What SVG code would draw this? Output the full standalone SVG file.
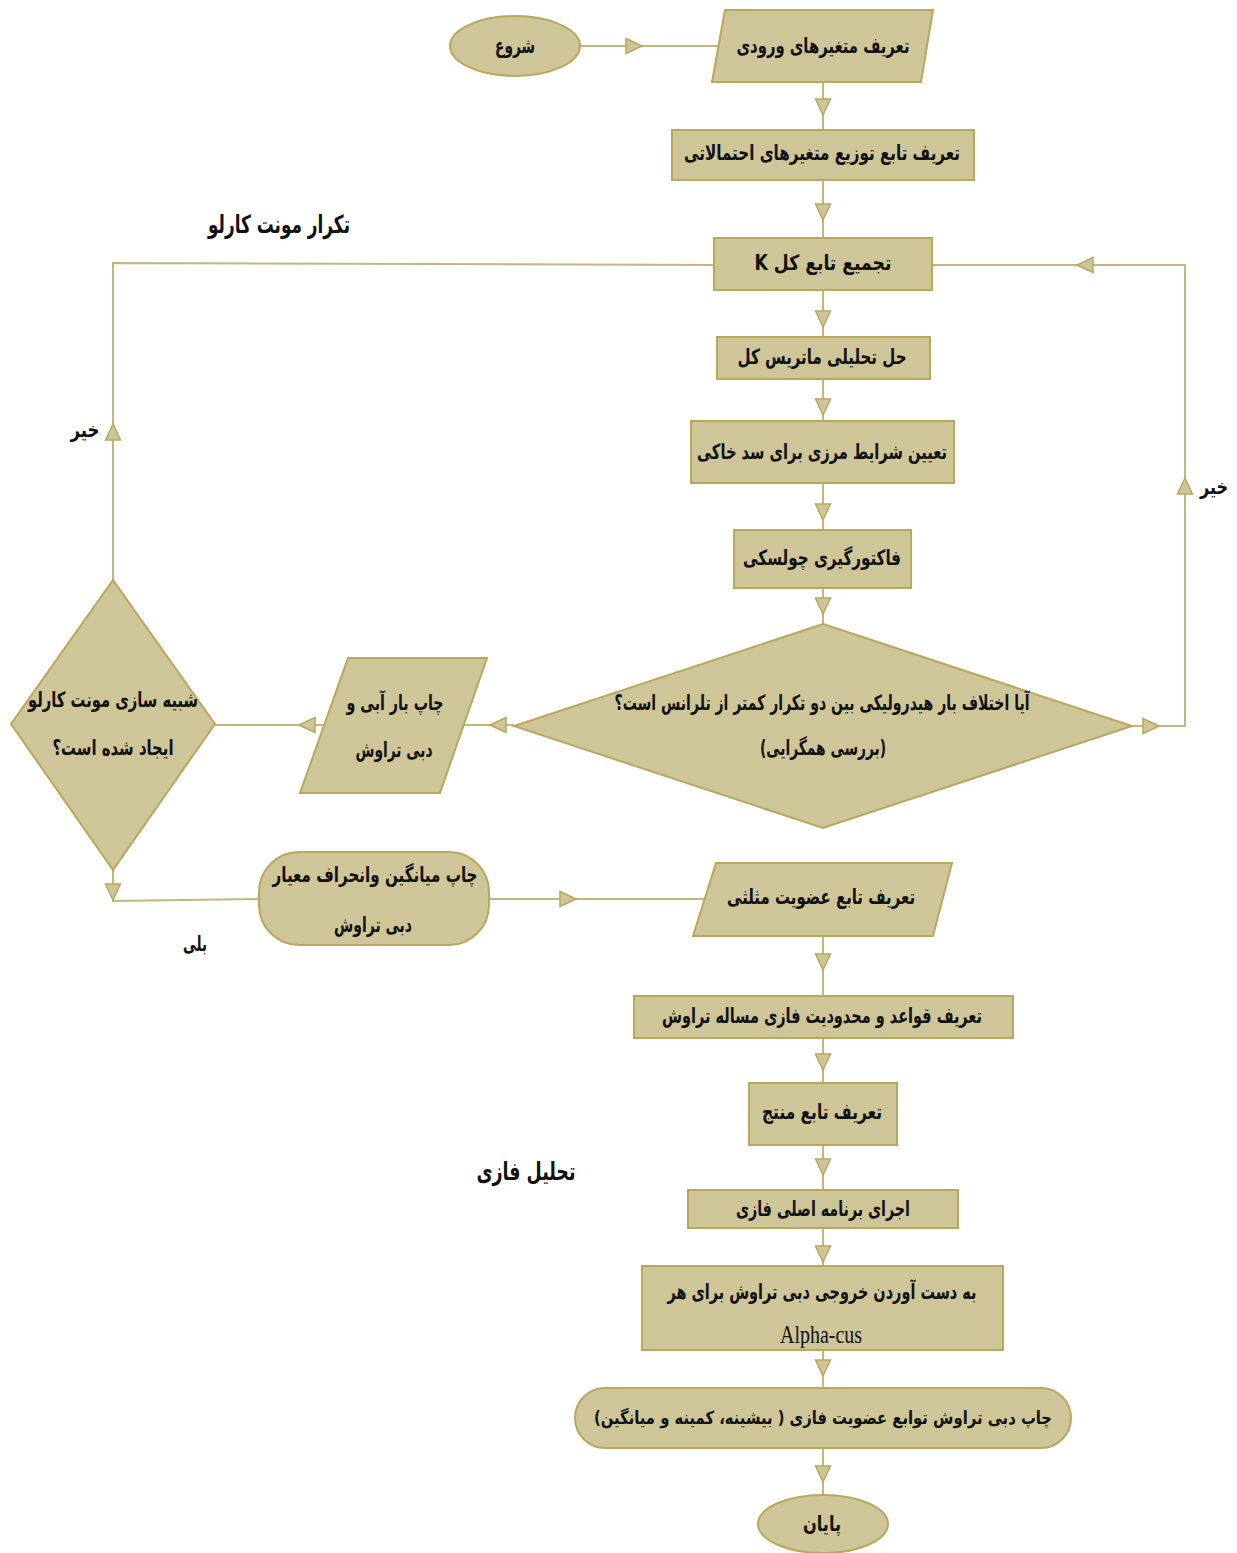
<svg xmlns="http://www.w3.org/2000/svg" xmlns:xlink="http://www.w3.org/1999/xlink" width="1237" height="1553" viewBox="0 0 1237 1553">
<style>
.n{fill:#CEC598;stroke:#B9A85C;stroke-width:2}
.c{fill:none;stroke:#C4B67C;stroke-width:2}
.ah{fill:#CEC598;stroke:#B9A85C;stroke-width:1.5}
.t{font-family:"DejaVu Sans",sans-serif;font-weight:bold;font-size:21px;fill:#111;text-anchor:middle;direction:rtl}
.lb{font-family:"DejaVu Sans",sans-serif;font-weight:bold;font-size:25px;fill:#111;text-anchor:middle;direction:rtl}
.lat{font-family:"Liberation Serif",serif;font-size:25px;fill:#111;text-anchor:middle}
</style>
<defs>
<path id="ah" class="ah" d="M0,0 L-16,-7.5 L-16,7.5 Z"/>
</defs>
<rect width="1237" height="1553" fill="#fff"/>
<g id="connectors">
<path class="c" d="M580,46 L718,46"/>
<use xlink:href="#ah" transform="translate(642,46)"/>
<path class="c" d="M823,82 L823,130"/>
<use xlink:href="#ah" transform="translate(823,115) rotate(90)"/>
<path class="c" d="M823,180 L823,238"/>
<use xlink:href="#ah" transform="translate(823,220) rotate(90)"/>
<path class="c" d="M823,290 L823,337"/>
<use xlink:href="#ah" transform="translate(823,327) rotate(90)"/>
<path class="c" d="M823,379 L823,421"/>
<use xlink:href="#ah" transform="translate(823,415) rotate(90)"/>
<path class="c" d="M823,483 L823,530"/>
<use xlink:href="#ah" transform="translate(823,520) rotate(90)"/>
<path class="c" d="M823,588 L823,624"/>
<use xlink:href="#ah" transform="translate(823,614) rotate(90)"/>
<path class="c" d="M1132,726 L1185,726 L1185,265 L932,265"/>
<use xlink:href="#ah" transform="translate(1159,726)"/>
<use xlink:href="#ah" transform="translate(1185,478) rotate(-90)"/>
<use xlink:href="#ah" transform="translate(1077,265) rotate(180)"/>
<path class="c" d="M514,725 L464,725"/>
<use xlink:href="#ah" transform="translate(490,725) rotate(180)"/>
<path class="c" d="M324,725 L215,725"/>
<use xlink:href="#ah" transform="translate(299,725) rotate(180)"/>
<path class="c" d="M113,580 L113,263 L714,265"/>
<use xlink:href="#ah" transform="translate(113,424) rotate(-90)"/>
<path class="c" d="M113,870 L113,901 L260,899"/>
<use xlink:href="#ah" transform="translate(113,900) rotate(90)"/>
<path class="c" d="M489,899 L705,899"/>
<use xlink:href="#ah" transform="translate(576,899)"/>
<path class="c" d="M823,936 L823,996"/>
<use xlink:href="#ah" transform="translate(823,970) rotate(90)"/>
<path class="c" d="M823,1038 L823,1083"/>
<use xlink:href="#ah" transform="translate(823,1070) rotate(90)"/>
<path class="c" d="M823,1145 L823,1190"/>
<use xlink:href="#ah" transform="translate(823,1175) rotate(90)"/>
<path class="c" d="M823,1228 L823,1266"/>
<use xlink:href="#ah" transform="translate(823,1262) rotate(90)"/>
<path class="c" d="M823,1350 L823,1388"/>
<use xlink:href="#ah" transform="translate(823,1376) rotate(90)"/>
<path class="c" d="M823,1448 L823,1495"/>
<use xlink:href="#ah" transform="translate(823,1482) rotate(90)"/>
</g>
<g id="start"><ellipse class="n" cx="515" cy="46" rx="65" ry="30"/><text class="t" x="515" y="53" textLength="40" lengthAdjust="spacingAndGlyphs">شروع</text></g>
<g id="input"><polygon class="n" points="725,10 933,10 921,82 712,82"/><text class="t" x="823" y="53" textLength="173" lengthAdjust="spacingAndGlyphs">تعریف متغیرهای ورودی</text></g>
<g id="dist"><rect class="n" x="672" y="130" width="302" height="50"/><text class="t" x="822" y="160" textLength="276" lengthAdjust="spacingAndGlyphs">تعریف تابع توزیع متغیرهای احتمالاتی</text></g>
<g id="assemble"><rect class="n" x="714" y="238" width="218" height="52"/><text class="t" x="823" y="270" textLength="137" lengthAdjust="spacingAndGlyphs">تجمیع تابع کل  K</text></g>
<g id="solve"><rect class="n" x="717" y="337" width="213" height="42"/><text class="t" x="822" y="364" textLength="169" lengthAdjust="spacingAndGlyphs">حل تحلیلی ماتریس کل</text></g>
<g id="boundary"><rect class="n" x="691" y="421" width="263" height="62"/><text class="t" x="822" y="459" textLength="250" lengthAdjust="spacingAndGlyphs">تعیین شرایط مرزی برای سد خاکی</text></g>
<g id="cholesky"><rect class="n" x="734" y="530" width="177" height="58"/><text class="t" x="822" y="565" textLength="158" lengthAdjust="spacingAndGlyphs">فاکتورگیری چولسکی</text></g>
<g id="converge"><polygon class="n" points="823,624 1132,726 823,828 514,726"/><text class="t" x="822" y="710" textLength="415" lengthAdjust="spacingAndGlyphs">آیا اختلاف بار هیدرولیکی بین دو تکرار کمتر از تلرانس است؟</text><text class="t" x="823" y="755" textLength="126" lengthAdjust="spacingAndGlyphs">(بررسی همگرایی)</text></g>
<g id="printLoad"><polygon class="n" points="348,658 487,658 440,793 300,793"/><text class="t" x="395" y="710" textLength="97" lengthAdjust="spacingAndGlyphs">چاپ بار آبی و</text><text class="t" x="394" y="757" textLength="77" lengthAdjust="spacingAndGlyphs">دبی تراوش</text></g>
<g id="mcDone"><polygon class="n" points="113,580 215,724 113,870 11,724"/><text class="t" x="113" y="707" textLength="170" lengthAdjust="spacingAndGlyphs">شبیه سازی مونت کارلو</text><text class="t" x="113" y="755" textLength="121" lengthAdjust="spacingAndGlyphs">ایجاد شده است؟</text></g>
<g id="printStats"><rect class="n" x="259" y="852" width="230" height="93" rx="40" ry="40"/><text class="t" x="375" y="882" textLength="205" lengthAdjust="spacingAndGlyphs">چاپ میانگین وانحراف معیار</text><text class="t" x="373" y="932" textLength="78" lengthAdjust="spacingAndGlyphs">دبی تراوش</text></g>
<g id="triangular"><polygon class="n" points="716,863 952,863 933,936 693,936"/><text class="t" x="821" y="904" textLength="188" lengthAdjust="spacingAndGlyphs">تعریف تابع عضویت مثلثی</text></g>
<g id="rules"><rect class="n" x="634" y="996" width="379" height="42"/><text class="t" x="822" y="1023" textLength="320" lengthAdjust="spacingAndGlyphs">تعریف قواعد و محدودیت فازی مساله تراوش</text></g>
<g id="result"><rect class="n" x="749" y="1083" width="148" height="62"/><text class="t" x="822" y="1119" textLength="120" lengthAdjust="spacingAndGlyphs">تعریف تابع منتج</text></g>
<g id="run"><rect class="n" x="688" y="1190" width="270" height="38"/><text class="t" x="823" y="1216" textLength="174" lengthAdjust="spacingAndGlyphs">اجرای برنامه اصلی فازی</text></g>
<g id="output"><rect class="n" x="642" y="1266" width="361" height="84"/><text class="t" x="822" y="1299" textLength="309" lengthAdjust="spacingAndGlyphs">به دست آوردن خروجی دبی تراوش برای هر</text><text class="lat" x="821" y="1343" textLength="82" lengthAdjust="spacingAndGlyphs">Alpha-cus</text></g>
<g id="printFuzzy"><rect class="n" x="575" y="1388" width="496" height="60" rx="30" ry="30"/><text class="t" x="823" y="1424" style="font-size:18px" textLength="458" lengthAdjust="spacingAndGlyphs">چاپ دبی تراوش توابع عضویت فازی ( بیشینه، کمینه و میانگین)</text></g>
<g id="end"><ellipse class="n" cx="823" cy="1524" rx="65" ry="29"/><text class="t" x="822" y="1531" textLength="38" lengthAdjust="spacingAndGlyphs">پایان</text></g>
<g id="labels">
<text class="lb" x="279" y="233" textLength="142" lengthAdjust="spacingAndGlyphs">تکرار مونت کارلو</text>
<text class="lb" x="526" y="1180" textLength="99" lengthAdjust="spacingAndGlyphs">تحلیل فازی</text>
<text class="t" x="85" y="437" textLength="29" lengthAdjust="spacingAndGlyphs">خیر</text>
<text class="t" x="1214" y="494" textLength="28" lengthAdjust="spacingAndGlyphs">خیر</text>
<text class="t" x="195" y="951" textLength="24" lengthAdjust="spacingAndGlyphs">بلی</text>
</g>
</svg>
